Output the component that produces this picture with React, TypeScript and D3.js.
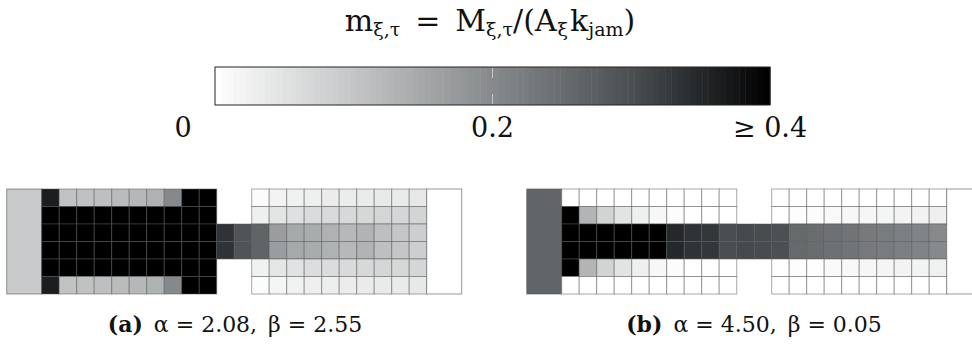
import React from 'react'
import * as d3 from 'd3'

// colour map: m value -> grey
const CMAP_STOPS = [0, 0.1, 0.2, 0.3, 0.35, 0.4]
const CMAP_COLORS = ['#ffffff', '#c3c5c6', '#878a8c', '#4b4f51', '#25282a', '#000000']
const CBAR_TICKS = [
  { v: 0, label: '0' },
  { v: 0.2, label: '0.2' },
  { v: 0.4, label: '≥ 0.4' },
]

// panel (a): alpha = 2.08, beta = 2.55
const A_BLOCK = 0.092
const A_LEFT = [
  [0.364, 0.105, 0.107, 0.11, 0.117, 0.123, 0.133, 0.202, 0.45, 0.45],
  [0.45, 0.45, 0.45, 0.45, 0.45, 0.45, 0.45, 0.45, 0.45, 0.45],
  [0.45, 0.45, 0.45, 0.45, 0.45, 0.45, 0.45, 0.45, 0.45, 0.45],
  [0.45, 0.45, 0.45, 0.45, 0.45, 0.45, 0.45, 0.45, 0.45, 0.45],
  [0.45, 0.45, 0.45, 0.45, 0.45, 0.45, 0.45, 0.45, 0.45, 0.45],
  [0.364, 0.105, 0.107, 0.11, 0.117, 0.123, 0.133, 0.202, 0.45, 0.45],
]
const A_CORRIDOR = [0.336, 0.292]
const A_RIGHT = [
  [0.007, 0.02, 0.025, 0.028, 0.032, 0.033, 0.035, 0.038, 0.037, 0.042],
  [0.028, 0.047, 0.053, 0.062, 0.063, 0.067, 0.068, 0.072, 0.07, 0.073],
  [0.265, 0.168, 0.148, 0.143, 0.133, 0.122, 0.13, 0.11, 0.098, 0.085],
  [0.265, 0.168, 0.148, 0.143, 0.133, 0.122, 0.13, 0.11, 0.098, 0.085],
  [0.025, 0.043, 0.05, 0.058, 0.06, 0.064, 0.066, 0.07, 0.068, 0.071],
  [0.006, 0.018, 0.023, 0.027, 0.03, 0.032, 0.034, 0.036, 0.036, 0.04],
]

// panel (b): alpha = 4.50, beta = 0.05
const B_BLOCK = 0.262
const B_LEFT = [
  [0, 0, 0, 0, 0, 0, 0, 0, 0, 0],
  [0.45, 0.128, 0.075, 0.048, 0.028, 0.013, 0.005, 0, 0, 0],
  [0.45, 0.45, 0.45, 0.45, 0.45, 0.45, 0.35, 0.336, 0.331, 0.301],
  [0.45, 0.45, 0.45, 0.45, 0.45, 0.45, 0.35, 0.336, 0.331, 0.301],
  [0.45, 0.128, 0.075, 0.048, 0.028, 0.013, 0.005, 0, 0, 0],
  [0, 0, 0, 0, 0, 0, 0, 0, 0, 0],
]
const B_CORRIDOR = [0.307, 0.304]
const B_RIGHT = [
  [0, 0, 0, 0, 0, 0, 0, 0, 0, 0],
  [0, 0.003, 0.005, 0.01, 0.013, 0.015, 0.018, 0.02, 0.022, 0.027],
  [0.298, 0.255, 0.25, 0.242, 0.237, 0.227, 0.223, 0.217, 0.21, 0.2],
  [0.298, 0.255, 0.25, 0.242, 0.237, 0.227, 0.223, 0.217, 0.21, 0.2],
  [0, 0.003, 0.002, 0.01, 0.012, 0.015, 0.017, 0.02, 0.021, 0.026],
  [0, 0, 0, 0, 0, 0, 0, 0, 0, 0],
]

const PANELS = [
  { id: 'a', alpha: '2.08', beta: '2.55', block: A_BLOCK, left: A_LEFT, corridor: A_CORRIDOR, right: A_RIGHT },
  { id: 'b', alpha: '4.50', beta: '0.05', block: B_BLOCK, left: B_LEFT, corridor: B_CORRIDOR, right: B_RIGHT },
]

const W = 972
const H = 345
const FONT = '"DejaVu Serif", "Liberation Serif", serif'

const color = d3.scaleLinear<string>().domain(CMAP_STOPS).range(CMAP_COLORS).clamp(true)

type Cell = { c: number; r: number; w: number; h: number; v: number; big?: boolean }

function buildCells(p: typeof PANELS[number]): Cell[] {
  const cells: Cell[] = [{ c: 0, r: 0, w: 2, h: 6, v: p.block, big: true }]
  p.left.forEach((row, r) => row.forEach((v, c) => cells.push({ c: 2 + c, r, w: 1, h: 1, v })))
  p.corridor.forEach((v, i) => {
    cells.push({ c: 12 + i, r: 2, w: 1, h: 1, v })
    cells.push({ c: 12 + i, r: 3, w: 1, h: 1, v })
  })
  p.right.forEach((row, r) => row.forEach((v, c) => cells.push({ c: 14 + c, r, w: 1, h: 1, v })))
  cells.push({ c: 24, r: 0, w: 2, h: 6, v: 0, big: true })
  return cells
}

function Panel({ p, x0, capX }: { p: typeof PANELS[number]; x0: number; capX: number }) {
  const x = d3.scaleLinear().domain([0, 26]).range([x0, x0 + 455])
  const y = d3.scaleLinear().domain([0, 6]).range([189, 294])
  const cells = buildCells(p)
  return (
    <g>
      {cells.map((d, i) => (
        <rect
          key={i}
          x={x(d.c)}
          y={y(d.r)}
          width={x(d.c + d.w) - x(d.c)}
          height={y(d.r + d.h) - y(d.r)}
          fill={color(d.v)}
          stroke="#555"
          strokeOpacity={d.big ? 0.6 : 0.5}
          strokeWidth={1}
        />
      ))}
      <text x={capX} y={332} textAnchor="middle" fontFamily={FONT} fontSize={22} fill="#111">
        <tspan fontWeight="bold">({p.id})</tspan>
        <tspan>{'\u2002α = ' + p.alpha + ',\u2002β = ' + p.beta}</tspan>
      </text>
    </g>
  )
}

function ColorBar() {
  const cx = d3.scaleLinear().domain([0, 0.4]).range([215, 770])
  const steps = d3.range(0, 0.4, 0.4 / 90)
  const top = 67
  const bottom = 105
  const labelX = [183, cx(0.2), cx(0.4)]
  return (
    <g>
      {steps.map((s, i) => (
        <rect
          key={i}
          x={cx(s)}
          y={top}
          width={cx(s + 0.4 / 90) - cx(s) + 0.5}
          height={bottom - top}
          fill={color(s + 0.2 / 90)}
        />
      ))}
      <rect x={cx(0)} y={top} width={cx(0.4) - cx(0)} height={bottom - top} fill="none" stroke="#222" strokeWidth={1} />
      <line x1={cx(0.2)} x2={cx(0.2)} y1={top + 1} y2={top + 11} stroke="#fff" strokeOpacity={0.5} />
      <line x1={cx(0.2)} x2={cx(0.2)} y1={bottom - 11} y2={bottom - 1} stroke="#fff" strokeOpacity={0.5} />
      {CBAR_TICKS.map((t, i) => (
        <text key={t.label} x={labelX[i]} y={137} textAnchor="middle" fontFamily={FONT} fontSize={27} fill="#111">
          {t.label}
        </text>
      ))}
    </g>
  )
}

function Title() {
  const sub = { fontSize: 19 }
  return (
    <text x={490} y={31} textAnchor="middle" fontFamily={FONT} fontSize={30} fill="#111">
      <tspan>m</tspan>
      <tspan dy={5} {...sub}>ξ,τ</tspan>
      <tspan dy={-5}>{'\u2002=\u2002M'}</tspan>
      <tspan dy={5} {...sub}>ξ,τ</tspan>
      <tspan dy={-5}>/(A</tspan>
      <tspan dy={5} dx={1} {...sub}>ξ</tspan>
      <tspan dy={-5} dx={2}>k</tspan>
      <tspan dy={5} {...sub}>jam</tspan>
      <tspan dy={-5}>)</tspan>
    </text>
  )
}

export default function App() {
  return (
    <div style={{ position: 'absolute', left: 0, top: 0 }}>
      <svg width={W} height={H} style={{ display: 'block', overflow: 'hidden', background: '#fff' }}>
        <Title />
        <ColorBar />
        <Panel p={PANELS[0]} x0={6.7} capX={235} />
        <Panel p={PANELS[1]} x0={526.7} capX={754} />
      </svg>
    </div>
  )
}
